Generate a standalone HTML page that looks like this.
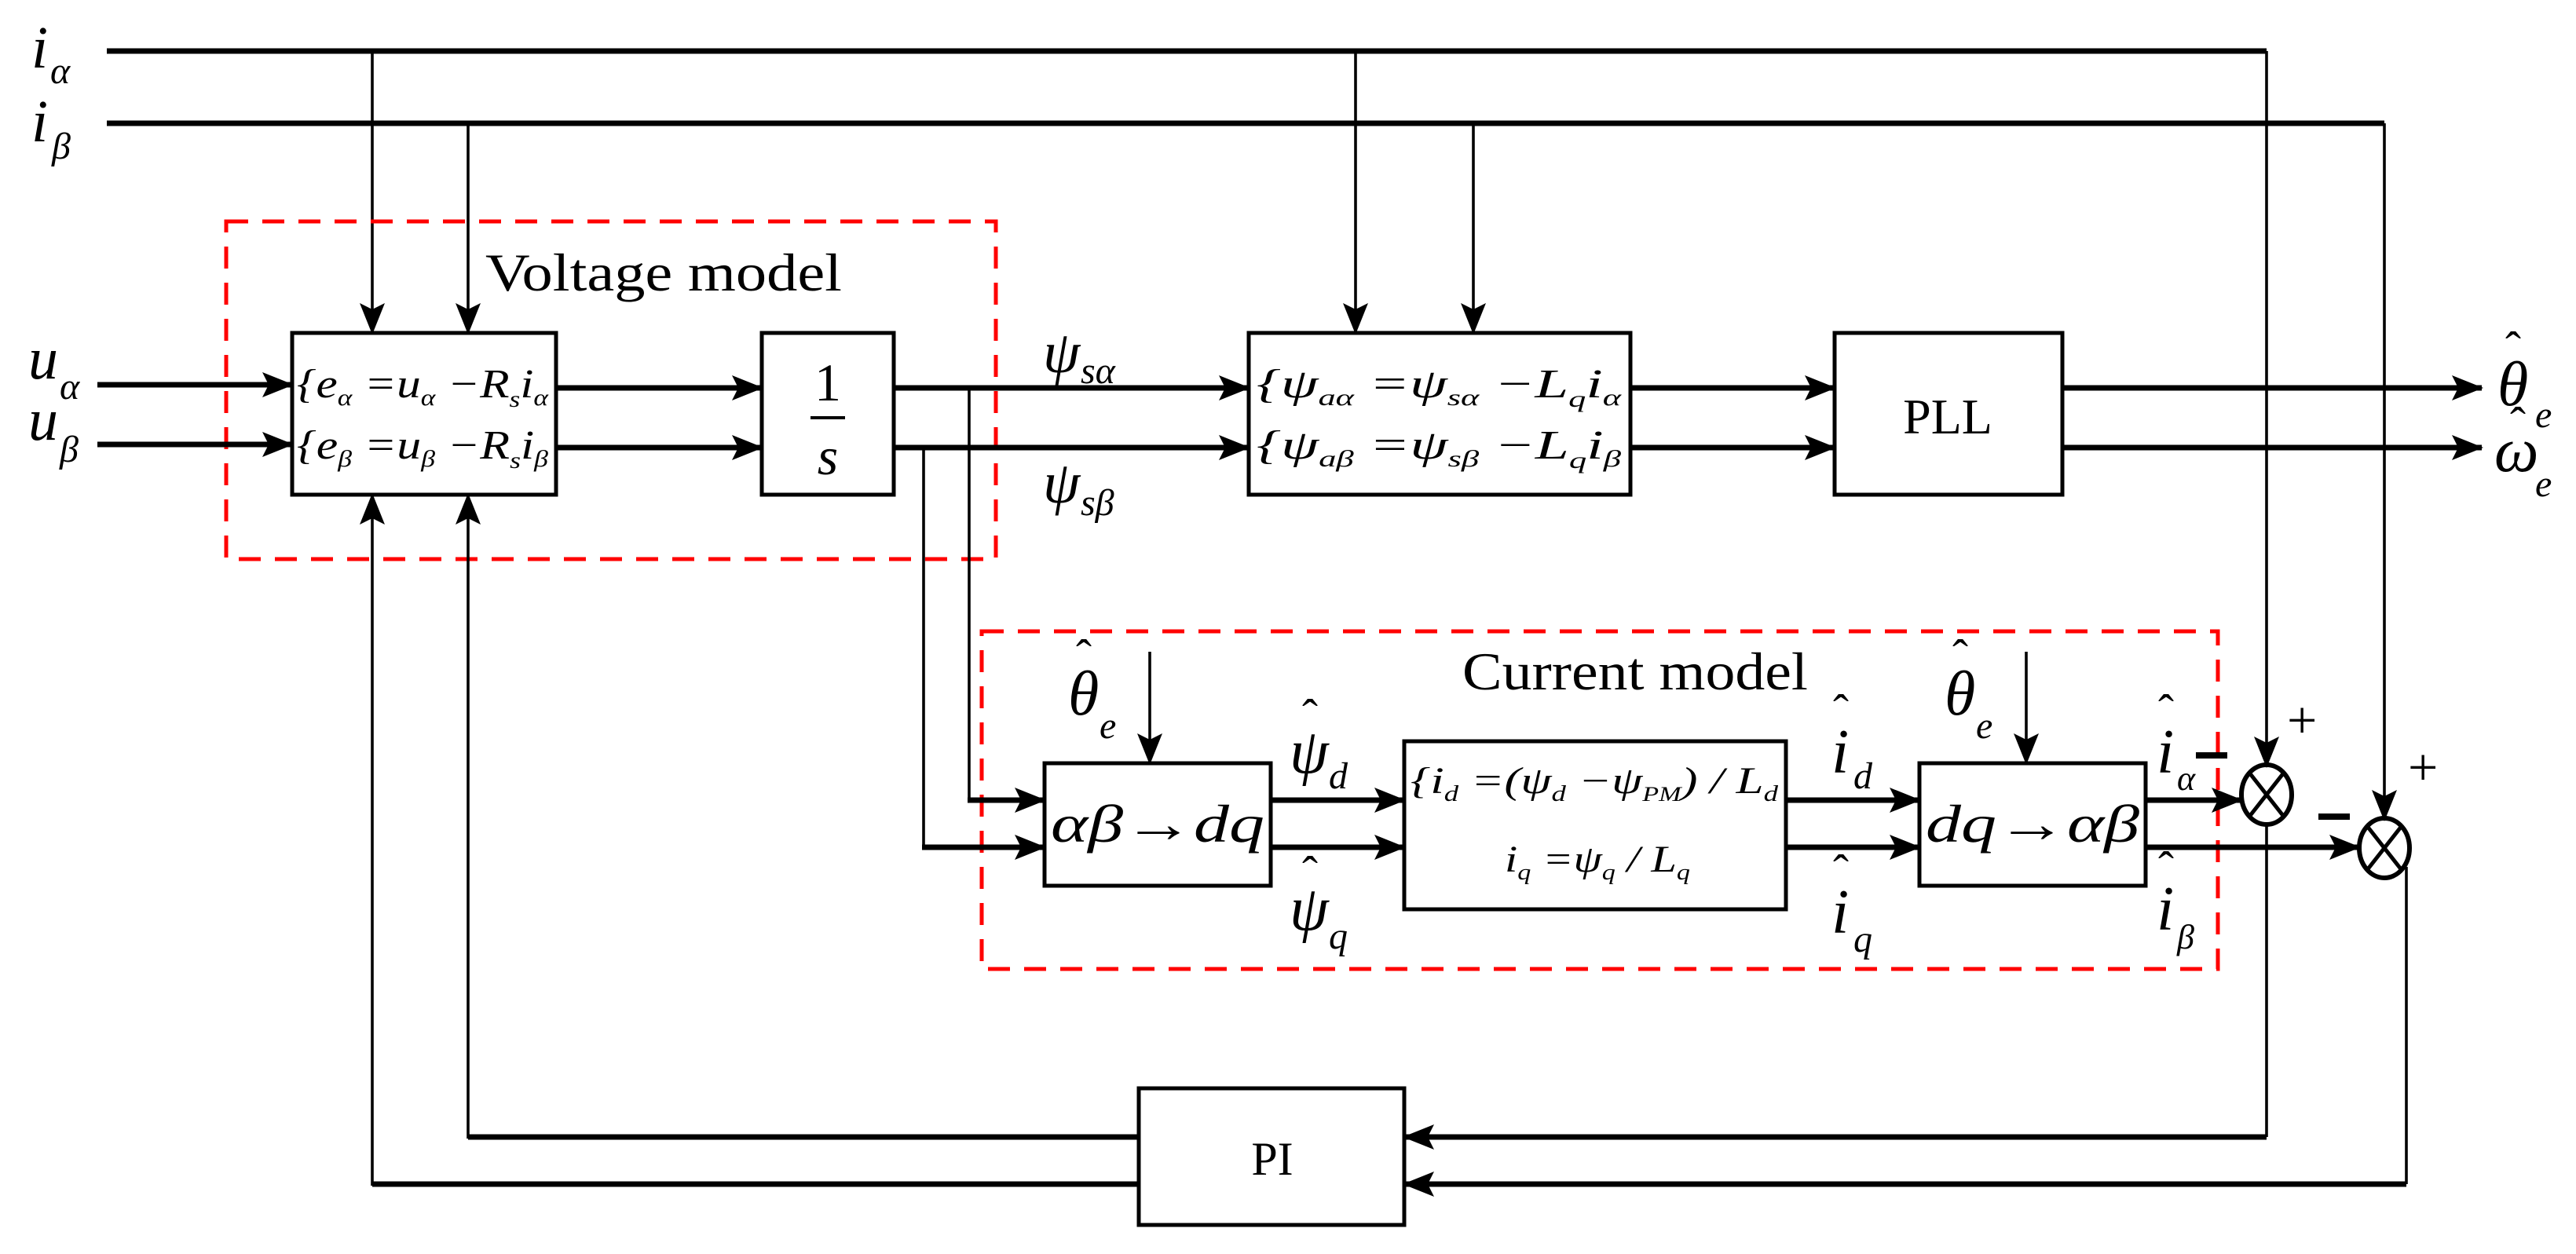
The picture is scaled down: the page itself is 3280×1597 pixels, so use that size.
<!DOCTYPE html>
<html><head><meta charset="utf-8"><style>
html,body{margin:0;padding:0;background:#fff;overflow:hidden}
svg{display:block}
text{font-family:"Liberation Serif",serif;fill:#000}
.i{font-style:italic}
</style></head><body>
<svg width="3280" height="1597" viewBox="0 0 1640 798.5" xmlns="http://www.w3.org/2000/svg">
<defs>
<marker id="a" markerUnits="userSpaceOnUse" markerWidth="20" markerHeight="16" refX="19" refY="8" orient="auto">
<path d="M0,0 L20,8 L0,16 L4,8 Z" fill="#000"/></marker>
<marker id="b" markerUnits="userSpaceOnUse" markerWidth="14" markerHeight="24" refX="13" refY="6" orient="auto">
<path d="M0,0 L13,6 L0,12 L3,6 Z" fill="#000"/></marker>
</defs>
<g fill="none" stroke="#000">
<polyline points="68,32.5 1443,32.5" stroke-width="3.5"/>
<polyline points="68,78.5 1518,78.5" stroke-width="3.5"/>
<line x1="1443" y1="32.5" x2="1443" y2="488" stroke-width="1.8" marker-end="url(#a)"/>
<line x1="1518" y1="78.5" x2="1518" y2="522" stroke-width="1.8" marker-end="url(#a)"/>
<line x1="237" y1="32.5" x2="237" y2="212" stroke-width="1.8" marker-end="url(#a)"/>
<line x1="298" y1="78.5" x2="298" y2="212" stroke-width="1.8" marker-end="url(#a)"/>
<line x1="863" y1="32.5" x2="863" y2="212" stroke-width="1.8" marker-end="url(#a)"/>
<line x1="938" y1="78.5" x2="938" y2="212" stroke-width="1.8" marker-end="url(#a)"/>
<rect x="186" y="212" width="168" height="103" stroke-width="2.5"/>
<rect x="485" y="212" width="84" height="103" stroke-width="2.5"/>
<rect x="795" y="212" width="243" height="103" stroke-width="2.5"/>
<rect x="1168" y="212" width="145" height="103" stroke-width="2.5"/>
<rect x="665" y="486" width="144" height="78" stroke-width="2.5"/>
<rect x="894" y="472" width="243" height="107" stroke-width="2.5"/>
<rect x="1222" y="486" width="144" height="78" stroke-width="2.5"/>
<rect x="725" y="693" width="169" height="87" stroke-width="2.5"/>
<rect x="144" y="141" width="490" height="215" stroke="#f00" stroke-width="2.5" stroke-dasharray="14,9"/>
<rect x="625" y="402" width="787" height="215" stroke="#f00" stroke-width="2.5" stroke-dasharray="14,9"/>
<g stroke-width="3.5">
<line x1="62" y1="245" x2="186" y2="245" marker-end="url(#a)"/>
<line x1="62" y1="283" x2="186" y2="283" marker-end="url(#a)"/>
<line x1="354" y1="247" x2="485" y2="247" marker-end="url(#a)"/>
<line x1="354" y1="285" x2="485" y2="285" marker-end="url(#a)"/>
<line x1="569" y1="247" x2="795" y2="247" marker-end="url(#a)"/>
<line x1="569" y1="285" x2="795" y2="285" marker-end="url(#a)"/>
<line x1="1038" y1="247" x2="1168" y2="247" marker-end="url(#a)"/>
<line x1="1038" y1="285" x2="1168" y2="285" marker-end="url(#a)"/>
<line x1="1313" y1="247" x2="1580" y2="247" marker-end="url(#a)"/>
<line x1="1313" y1="285" x2="1580" y2="285" marker-end="url(#a)"/>
<line x1="809" y1="509.5" x2="894" y2="509.5" marker-end="url(#a)"/>
<line x1="809" y1="539.5" x2="894" y2="539.5" marker-end="url(#a)"/>
<line x1="1137" y1="509.5" x2="1222" y2="509.5" marker-end="url(#a)"/>
<line x1="1137" y1="539.5" x2="1222" y2="539.5" marker-end="url(#a)"/>
<line x1="1366" y1="509.5" x2="1427" y2="509.5" marker-end="url(#a)"/>
<line x1="1366" y1="539.5" x2="1502" y2="539.5" marker-end="url(#a)"/>
<line x1="616" y1="509.5" x2="665" y2="509.5" marker-end="url(#a)"/>
<line x1="587" y1="539.5" x2="665" y2="539.5" marker-end="url(#a)"/>
<polyline points="1443,724 894,724" marker-end="url(#a)"/>
<polyline points="1532,754 894,754" marker-end="url(#a)"/>
<polyline points="725,724 298,724"/>
<polyline points="725,754 237,754"/>
</g>
<line x1="617" y1="247" x2="617" y2="511" stroke-width="1.8"/>
<line x1="588" y1="285" x2="588" y2="541" stroke-width="1.8"/>
<line x1="732" y1="415" x2="732" y2="486" stroke-width="1.8" marker-end="url(#a)"/>
<line x1="1290" y1="415" x2="1290" y2="486" stroke-width="1.8" marker-end="url(#a)"/>
<ellipse cx="1443" cy="506" rx="16" ry="19" stroke-width="3"/>
<path d="M1432,492 L1454,520 M1454,492 L1432,520" stroke-width="2.5"/>
<ellipse cx="1518" cy="540" rx="16" ry="19" stroke-width="3"/>
<path d="M1507,526 L1529,554 M1529,526 L1507,554" stroke-width="2.5"/>
<polyline points="1443,525 1443,724" stroke-width="1.8"/>
<polyline points="1532,552 1532,754" stroke-width="1.8"/>
<line x1="298" y1="725" x2="298" y2="315" stroke-width="1.8" marker-end="url(#a)"/>
<line x1="237" y1="755" x2="237" y2="315" stroke-width="1.8" marker-end="url(#a)"/>
<line x1="1398" y1="481" x2="1418" y2="481" stroke-width="4"/>
<line x1="1476" y1="520" x2="1496" y2="520" stroke-width="4"/>
</g>
<text x="20" y="43" font-size="38" class="i">i</text><text x="32" y="53" font-size="24" class="i">α</text>
<text x="20" y="90" font-size="38" class="i">i</text><text x="33" y="101" font-size="24" class="i">β</text>
<text x="18" y="241" font-size="38" class="i">u</text><text x="38" y="254" font-size="24" class="i">α</text>
<text x="18" y="280" font-size="38" class="i">u</text><text x="38" y="294" font-size="24" class="i">β</text>
<text x="309" y="185" font-size="34" textLength="227" lengthAdjust="spacingAndGlyphs">Voltage model</text>
<text x="931" y="439" font-size="34" textLength="220" lengthAdjust="spacingAndGlyphs">Current model</text>
<text x="189" y="253" font-size="26" class="i" textLength="160" lengthAdjust="spacingAndGlyphs">{e<tspan font-size="15" dy="5">α</tspan><tspan dy="-5"> =u</tspan><tspan font-size="15" dy="5">α</tspan><tspan dy="-5"> −R</tspan><tspan font-size="15" dy="6">s</tspan><tspan dy="-6">i</tspan><tspan font-size="15" dy="5">α</tspan></text>
<text x="189" y="292" font-size="26" class="i" textLength="160" lengthAdjust="spacingAndGlyphs">{e<tspan font-size="15" dy="5">β</tspan><tspan dy="-5"> =u</tspan><tspan font-size="15" dy="5">β</tspan><tspan dy="-5"> −R</tspan><tspan font-size="15" dy="6">s</tspan><tspan dy="-6">i</tspan><tspan font-size="15" dy="5">β</tspan></text>
<text x="527" y="255" font-size="34" text-anchor="middle">1</text>
<line x1="516" y1="266" x2="538" y2="266" stroke="#000" stroke-width="2"/>
<text x="527" y="302" font-size="34" class="i" text-anchor="middle">s</text>
<text x="664" y="237" font-size="38" class="i">ψ</text><text x="688" y="244" font-size="24" class="i">sα</text>
<text x="664" y="320" font-size="38" class="i">ψ</text><text x="688" y="328" font-size="24" class="i">sβ</text>
<text x="800" y="253" font-size="26" class="i" textLength="232" lengthAdjust="spacingAndGlyphs">{ψ<tspan font-size="15" dy="5">aα</tspan><tspan dy="-5"> =ψ</tspan><tspan font-size="15" dy="5">sα</tspan><tspan dy="-5"> −L</tspan><tspan font-size="15" dy="6">q</tspan><tspan dy="-6">i</tspan><tspan font-size="15" dy="5">α</tspan></text>
<text x="800" y="292" font-size="26" class="i" textLength="232" lengthAdjust="spacingAndGlyphs">{ψ<tspan font-size="15" dy="5">aβ</tspan><tspan dy="-5"> =ψ</tspan><tspan font-size="15" dy="5">sβ</tspan><tspan dy="-5"> −L</tspan><tspan font-size="15" dy="6">q</tspan><tspan dy="-6">i</tspan><tspan font-size="15" dy="5">β</tspan></text>
<text x="1240" y="276" font-size="32" text-anchor="middle">PLL</text>
<text x="1590" y="258" font-size="40" class="i">θ</text><text x="1614" y="272" font-size="24" class="i">e</text><text x="1595" y="232" font-size="30">ˆ</text>
<text x="1588" y="300" font-size="40" class="i">ω</text><text x="1614" y="316" font-size="24" class="i">e</text><text x="1598" y="280" font-size="30">ˆ</text>
<text x="680" y="455" font-size="40" class="i">θ</text><text x="700" y="470" font-size="24" class="i">e</text><text x="685" y="428" font-size="30">ˆ</text>
<text x="1238" y="455" font-size="40" class="i">θ</text><text x="1258" y="470" font-size="24" class="i">e</text><text x="1243" y="428" font-size="30">ˆ</text>
<text x="669" y="536" font-size="34" class="i" textLength="136" lengthAdjust="spacingAndGlyphs">αβ→dq</text>
<text x="1226" y="536" font-size="34" class="i" textLength="136" lengthAdjust="spacingAndGlyphs">dq→αβ</text>
<text x="821" y="492" font-size="40" class="i">ψ</text><text x="846" y="502" font-size="24" class="i">d</text><text x="829" y="466" font-size="30">ˆ</text>
<text x="821" y="592" font-size="40" class="i">ψ</text><text x="846" y="604" font-size="24" class="i">q</text><text x="829" y="566" font-size="30">ˆ</text>
<text x="1166" y="492" font-size="40" class="i">i</text><text x="1180" y="502" font-size="24" class="i">d</text><text x="1167" y="463" font-size="30">ˆ</text>
<text x="1166" y="594" font-size="40" class="i">i</text><text x="1180" y="606" font-size="24" class="i">q</text><text x="1167" y="565" font-size="30">ˆ</text>
<text x="1373" y="492" font-size="40" class="i">i</text><text x="1386" y="503" font-size="22" class="i">α</text><text x="1374" y="463" font-size="30">ˆ</text>
<text x="1373" y="592" font-size="40" class="i">i</text><text x="1386" y="604" font-size="22" class="i">β</text><text x="1374" y="563" font-size="30">ˆ</text>
<text x="1456" y="470" font-size="34">+</text>
<text x="1533" y="500" font-size="34">+</text>
<text x="898" y="505" font-size="24" class="i" textLength="234" lengthAdjust="spacingAndGlyphs">{i<tspan font-size="14" dy="5">d</tspan><tspan dy="-5"> =(ψ</tspan><tspan font-size="14" dy="5">d</tspan><tspan dy="-5"> −ψ</tspan><tspan font-size="13" dy="5">PM</tspan><tspan dy="-5">) / L</tspan><tspan font-size="14" dy="5">d</tspan></text>
<text x="958" y="555" font-size="24" class="i" textLength="118" lengthAdjust="spacingAndGlyphs">i<tspan font-size="14" dy="5">q</tspan><tspan dy="-5"> =ψ</tspan><tspan font-size="14" dy="5">q</tspan><tspan dy="-5"> / L</tspan><tspan font-size="14" dy="5">q</tspan></text>
<text x="810" y="748" font-size="30" text-anchor="middle">PI</text>
</svg>
</body></html>
